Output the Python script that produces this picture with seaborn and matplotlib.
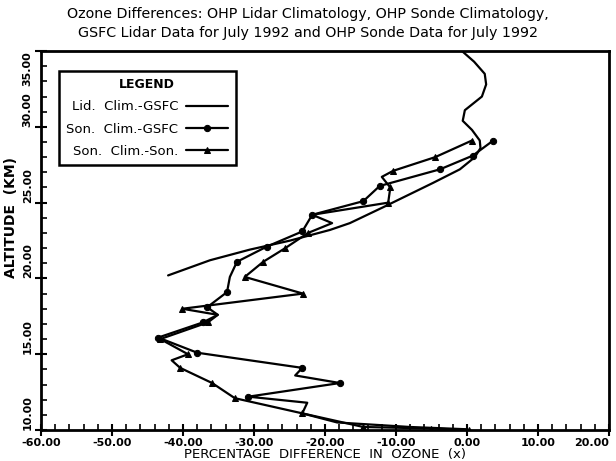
import matplotlib
matplotlib.use("Agg")
import matplotlib.pyplot as plt
import seaborn as sns
import pandas as pd
from matplotlib.ticker import MultipleLocator, FormatStrFormatter

# Lidar climatology minus GSFC lidar (smooth profile)
lid_alt = [20.2, 21.2, 21.9, 22.5, 23.2, 23.65, 24.7, 26.3, 27.2, 28.0, 28.6, 29.1,
           29.8, 30.4, 31.1, 32.0, 32.8, 33.5, 34.3, 35.0]
lid_diff = [-42.1, -36.2, -30.6, -24.9, -19.3, -16.5, -11.8, -4.8, -1.0, 1.1, 1.9, 1.8,
            0.7, -0.6, -0.3, 2.1, 2.7, 2.5, 1.0, -0.7]

# Sonde climatology minus GSFC lidar (circles)
son_gsfc_alt = [29.1, 28.1, 27.2, 26.1, 25.1, 24.2, 23.1, 22.1, 21.1, 20.1, 19.1, 18.1,
                17.6, 17.1, 16.1, 15.1, 14.1, 13.6, 13.1, 12.2, 11.8, 11.1, 10.5, 10.2, 10.05]
son_gsfc_diff = [3.7, 0.8, -3.8, -12.3, -14.6, -21.8, -23.2, -28.2, -32.4, -33.4, -33.8, -36.6,
                 -35.1, -37.2, -43.5, -38.0, -23.2, -24.2, -17.9, -30.8, -22.5, -23.2, -18.3, -8.0, 0.0]
son_gsfc_marks = [0, 1, 2, 3, 4, 5, 6, 7, 8, 10, 11, 13, 14, 15, 16, 18, 19]

# Sonde climatology minus July 1992 sonde (triangles)
son_son_alt = [29.1, 28.0, 27.1, 26.7, 26.0, 25.0, 24.2, 23.65, 23.0, 22.0, 21.1, 20.1,
               19.0, 18.0, 17.6, 17.1, 16.0, 15.0, 14.6, 14.1, 13.1, 12.1, 11.1, 10.2, 10.1, 10.0]
son_son_diff = [0.7, -4.5, -10.4, -12.0, -10.8, -11.1, -21.8, -19.0, -22.4, -25.6, -28.7, -31.3,
                -23.1, -40.1, -35.1, -36.5, -43.2, -39.3, -41.6, -40.4, -35.9, -32.7, -23.2, -14.6, -5.0, 0.3]
son_son_marks = [0, 1, 2, 4, 5, 8, 9, 10, 11, 12, 13, 15, 16, 17, 19, 20, 21, 22, 23, 24, 25]

title = ("Ozone Differences: OHP Lidar Climatology, OHP Sonde Climatology,\n"
         "GSFC Lidar Data for July 1992 and OHP Sonde Data for July 1992")

sns.set_style("ticks")
plt.rcParams['font.family'] = ['DejaVu Sans']
plt.rcParams['text.color'] = 'black'
plt.rcParams['axes.labelcolor'] = 'black'

fig = plt.figure(figsize=(6.16, 4.61), dpi=100)
ax = fig.add_axes([0.0666, 0.0672, 0.922, 0.822])

lid = pd.DataFrame({'diff': lid_diff, 'alt': lid_alt})
sg = pd.DataFrame({'diff': son_gsfc_diff, 'alt': son_gsfc_alt})
ss = pd.DataFrame({'diff': son_son_diff, 'alt': son_son_alt})

sns.lineplot(data=lid, x='diff', y='alt', sort=False, estimator=None, color='black',
             lw=1.6, ax=ax, label='Lid.  Clim.-GSFC')
sns.lineplot(data=sg, x='diff', y='alt', sort=False, estimator=None, color='black',
             lw=1.6, marker='o', markersize=4.5, markeredgecolor='black', markevery=son_gsfc_marks,
             ax=ax, label='Son.  Clim.-GSFC')
sns.lineplot(data=ss, x='diff', y='alt', sort=False, estimator=None, color='black',
             lw=1.6, marker='^', markersize=5, markeredgecolor='black', markevery=son_son_marks,
             ax=ax, label='Son.  Clim.-Son.')

ax.set_xlim(-60, 20)
ax.set_ylim(10, 35)
ax.set_xticks([-60, -50, -40, -30, -20, -10, 0, 10, 20])
ax.set_yticks([10, 15, 20, 25, 30, 35])
ax.xaxis.set_minor_locator(MultipleLocator(2))
ax.yaxis.set_minor_locator(MultipleLocator(1))
ax.xaxis.set_major_formatter(FormatStrFormatter('%.2f'))
ax.yaxis.set_major_formatter(FormatStrFormatter('%.2f'))
ax.tick_params(which='major', direction='inout', length=8, width=1.5, labelsize=8,
               color='black', labelcolor='black', pad=2)
ax.tick_params(which='minor', direction='in', length=4, width=1.2, color='black')
ax.tick_params(axis='x', which='both', top=False)
ax.tick_params(axis='y', which='both', right=False)
fig.canvas.draw()
ylabs = ax.get_yticklabels()
for lab in ylabs:
    lab.set_rotation(90)
    lab.set_va('bottom')
    lab.set_fontweight('bold')
    if lab.get_text() == '35.00':
        lab.set_va('top')
xlabs = ax.get_xticklabels()
for lab in xlabs:
    lab.set_fontweight('bold')
    if lab.get_text() == '20.00':
        lab.set_ha('right')
for s in ax.spines.values():
    s.set_visible(True)
    s.set_linewidth(2)
    s.set_color('black')

ax.set_xlabel('PERCENTAGE  DIFFERENCE  IN  OZONE  (x)', fontsize=9.5, labelpad=0)
ax.set_ylabel('ALTITUDE  (KM)', fontsize=10, fontweight='bold', labelpad=1)
ax.yaxis.set_label_coords(-0.04, 0.56)
fig.text(0.5, 0.913, title, ha='center', va='bottom', fontsize=10.3, linespacing=1.45)

leg = ax.legend(loc='upper left', bbox_to_anchor=(0.02, 0.965), title='LEGEND',
                markerfirst=False, frameon=True, fancybox=False, fontsize=9.5,
                title_fontsize=9, handlelength=3.2, borderpad=0.55, labelspacing=0.7,
                handletextpad=0.6)
leg.get_title().set_fontweight('bold')
leg.get_frame().set_edgecolor('black')
leg.get_frame().set_linewidth(1.8)
leg.get_frame().set_alpha(1)

fig.savefig('out.png', dpi=100)
